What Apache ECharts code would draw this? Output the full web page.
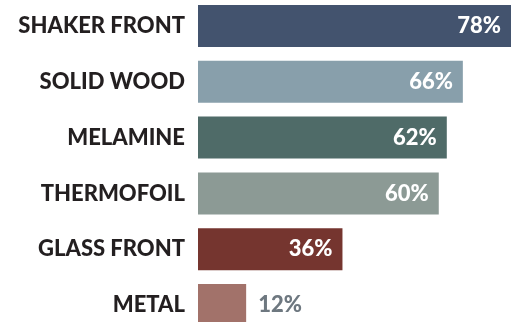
<!DOCTYPE html>
<html>
<head>
<meta charset="UTF-8">
<title>Cabinet styles</title>
<script src="https://cdn.jsdelivr.net/npm/echarts@6/dist/echarts.min.js"></script>
<style>
    html, body, #chart {
        width: 519px;
        height: 322px;
        margin: 0;
        padding: 0;
        background: #fff;
    }
</style>
</head>
<body>
<div id="chart"></div>
<script>
    const categories = ["SHAKER FRONT", "SOLID WOOD", "MELAMINE", "THERMOFOIL", "GLASS FRONT", "METAL"];
    const values = [78, 66, 62, 60, 36, 12];
    const barColors = ["#43536e", "#889fab", "#4f6b68", "#8c9a95", "#75352f", "#a2726a"];

    var myChart = echarts.init(document.getElementById("chart"));
    var fontFam = "Lato";

    var option = {
        animation: false,
        grid: { left: 198, width: 313, top: -2, height: 335, outerBoundsMode: "none", containLabel: false },
        xAxis: {
            type: "value",
            min: 0,
            max: 78,
            show: false
        },
        yAxis: {
            type: "category",
            inverse: true,
            data: categories,
            axisLine: { show: false },
            axisTick: { show: false },
            axisLabel: {
                margin: 13,
                fontSize: 22,
                fontWeight: 900,
                fontFamily: fontFam,
                color: "#231f20"
            }
        },
        series: [{
            type: "bar",
            barWidth: 42,
            data: values.map(function (v, i) {
                var small = v < 20;
                return {
                    value: v,
                    itemStyle: { color: barColors[i] },
                    label: small ? { position: "right", distance: 12, color: "#6e7880" } : {}
                };
            }),
            label: {
                show: true,
                position: "insideRight",
                distance: 10,
                fontSize: 22,
                fontWeight: 900,
                fontFamily: fontFam,
                color: "#fff",
                formatter: "{c}%"
            }
        }]
    };
    myChart.setOption(option);
</script>
</body>
</html>
